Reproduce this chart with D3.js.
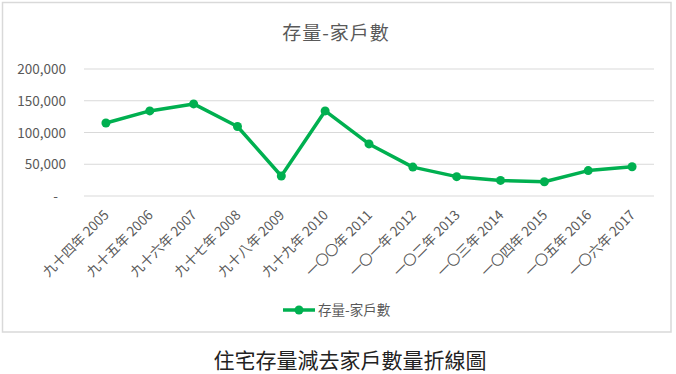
<!DOCTYPE html>
<html><head><meta charset="utf-8">
<script src="https://cdn.jsdelivr.net/npm/d3@7"></script>
<style>
html,body{margin:0;padding:0;background:#fff;}
svg{display:block;}
text{font-family:"Noto Sans CJK TC","Noto Sans",sans-serif;}
</style></head>
<body><svg id="c" width="676" height="374"></svg>
<script>
const categories = ["九十四年 2005","九十五年 2006","九十六年 2007","九十七年 2008","九十八年 2009","九十九年 2010","一〇〇年 2011","一〇一年 2012","一〇二年 2013","一〇三年 2014","一〇四年 2015","一〇五年 2016","一〇六年 2017"];
const values = [115000,134000,145000,109500,31500,134000,82000,45500,30500,24500,22500,40000,46000];
const yTicks = [0,50000,100000,150000,200000];
const seriesName = "存量-家戶數";
const chartTitle = "存量-家戶數";
const caption = "住宅存量減去家戶數量折線圖";

const svg = d3.select("#c");
const green = "#00B050";
const gray = "#595959";

svg.append("rect").attr("x",2.5).attr("y",2.5).attr("width",668.5).attr("height",329.5)
  .attr("fill","#fff").attr("stroke","#d9d9d9").attr("stroke-width",1.5);

const x = d3.scaleBand().domain(categories).range([84,654]);
const y = d3.scaleLinear().domain([0,200000]).range([196,69]);

// gridlines
svg.append("g").selectAll("line").data(yTicks).join("line")
  .attr("x1",84).attr("x2",654).attr("y1",d=>y(d)).attr("y2",d=>y(d))
  .attr("stroke","#d9d9d9").attr("stroke-width",1);

// y axis labels
const yAxis = d3.axisLeft(y).tickValues(yTicks).tickSize(0).tickPadding(0)
  .tickFormat(d=> d===0 ? "-" : d3.format(",")(d));
const ya = svg.append("g").attr("transform","translate(66,0)").call(yAxis);
ya.select(".domain").remove();
ya.selectAll("text").attr("fill",gray).attr("font-size",13.5)
  .attr("font-family","'Noto Sans CJK TC',sans-serif").attr("dy","0.35em")
  .attr("dx", d=> d===0 ? -8 : 0);

// x axis labels
const xAxis = d3.axisBottom(x).tickSize(0).tickPadding(0);
const xa = svg.append("g").attr("transform","translate(0,196)").call(xAxis);
xa.select(".domain").remove();
xa.selectAll("text").attr("fill",gray).attr("font-size",13.5)
  .attr("font-family","'Noto Sans CJK TC',sans-serif")
  .attr("text-anchor","end").attr("dy",0).attr("y",0)
  .attr("transform","translate(4,20) rotate(-45)");

// line
const line = d3.line().x((d,i)=>x(categories[i])+x.bandwidth()/2).y(d=>y(d));
svg.append("path").datum(values).attr("d",line).attr("fill","none")
  .attr("stroke",green).attr("stroke-width",3.5).attr("stroke-linejoin","round");
svg.append("g").selectAll("circle").data(values).join("circle")
  .attr("cx",(d,i)=>x(categories[i])+x.bandwidth()/2).attr("cy",d=>y(d))
  .attr("r",4.5).attr("fill",green);

// title
svg.append("text").attr("x",336).attr("y",40).attr("text-anchor","middle")
  .attr("font-size",19).attr("fill",gray).attr("letter-spacing",1).text(chartTitle);

// legend
const lg = svg.append("g");
lg.append("line").attr("x1",283).attr("x2",315).attr("y1",310).attr("y2",310)
  .attr("stroke",green).attr("stroke-width",3.5);
lg.append("circle").attr("cx",299).attr("cy",310).attr("r",4.5).attr("fill",green);
lg.append("text").attr("x",318).attr("y",315).attr("font-size",13.5).attr("fill",gray).text(seriesName);

// caption
svg.append("text").attr("x",350).attr("y",368).attr("text-anchor","middle")
  .attr("font-size",21).attr("fill","#222").text(caption);
</script></body></html>
